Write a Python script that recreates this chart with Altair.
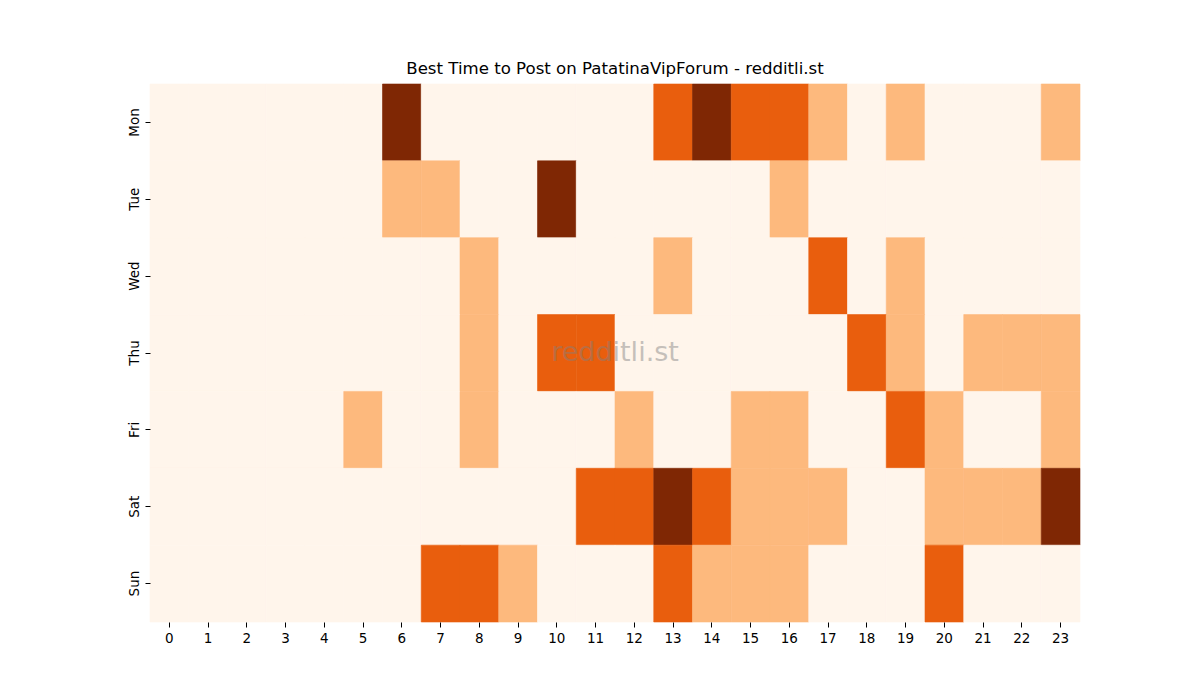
import altair as alt
import pandas as pd

dias = ["Mon", "Tue", "Wed", "Thu", "Fri", "Sat", "Sun"]
horas = list(range(24))

# nivel de actividad por hora (0-3)
mon = [0, 0, 0, 0, 0, 0, 3, 0, 0, 0, 0, 0, 0, 2, 3, 2, 2, 1, 0, 1, 0, 0, 0, 1]
tue = [0, 0, 0, 0, 0, 0, 1, 1, 0, 0, 3, 0, 0, 0, 0, 0, 1, 0, 0, 0, 0, 0, 0, 0]
wed = [0, 0, 0, 0, 0, 0, 0, 0, 1, 0, 0, 0, 0, 1, 0, 0, 0, 2, 0, 1, 0, 0, 0, 0]
thu = [0, 0, 0, 0, 0, 0, 0, 0, 1, 0, 2, 2, 0, 0, 0, 0, 0, 0, 2, 1, 0, 1, 1, 1]
fri = [0, 0, 0, 0, 0, 1, 0, 0, 1, 0, 0, 0, 1, 0, 0, 1, 1, 0, 0, 2, 1, 0, 0, 1]
sat = [0, 0, 0, 0, 0, 0, 0, 0, 0, 0, 0, 2, 2, 3, 2, 1, 1, 1, 0, 0, 1, 1, 1, 3]
sun = [0, 0, 0, 0, 0, 0, 0, 2, 2, 1, 0, 0, 0, 2, 1, 1, 1, 0, 0, 0, 2, 0, 0, 0]

filas = [mon, tue, wed, thu, fri, sat, sun]
registros = []
for dia, valores in zip(dias, filas):
    for h, v in zip(horas, valores):
        registros.append({"dia": dia, "hora": h, "valor": v})
df = pd.DataFrame(registros)

colores = ["#fff5eb", "#fdb97d", "#e95e0d", "#7f2704"]
escala = alt.Scale(domain=[0, 1, 2, 3], range=colores)

heat = alt.Chart(df).mark_rect(strokeWidth=0.6).encode(
    x=alt.X("hora:O", title=None, sort=horas,
            axis=alt.Axis(labelAngle=0, domain=False, tickSize=5, labelFontSize=13.5,
                          labelPadding=4, tickColor="black", labelColor="black",
                          labelFont="DejaVu Sans")),
    y=alt.Y("dia:O", title=None, sort=dias,
            axis=alt.Axis(labelAngle=270, domain=False, tickSize=5, labelFontSize=13.5,
                          labelPadding=4, labelAlign="center", labelBaseline="bottom",
                          tickColor="black", labelColor="black", labelFont="DejaVu Sans")),
    color=alt.Color("valor:Q", scale=escala, legend=None),
    stroke=alt.Stroke("valor:Q", scale=escala, legend=None),
)

marca = alt.Chart(pd.DataFrame({"t": ["redditli.st"]})).mark_text(
    fontSize=27, color="gray", opacity=0.45, font="DejaVu Sans"
).encode(text="t:N", x=alt.value(465), y=alt.value(269))

chart = alt.layer(heat, marca).properties(
    width=930,
    height=538,
    title=alt.Title("Best Time to Post on PatatinaVipForum - redditli.st",
                    fontSize=16.6, fontWeight="normal", font="DejaVu Sans",
                    color="black", offset=6),
    autosize=alt.AutoSizeParams(type="none"),
    padding={"left": 142, "top": 76, "right": 112, "bottom": 70},
).configure_view(stroke=None).configure_scale(bandPaddingInner=0, bandPaddingOuter=0)

chart.save("out.html", embed_options={"renderer": "svg", "actions": False})
